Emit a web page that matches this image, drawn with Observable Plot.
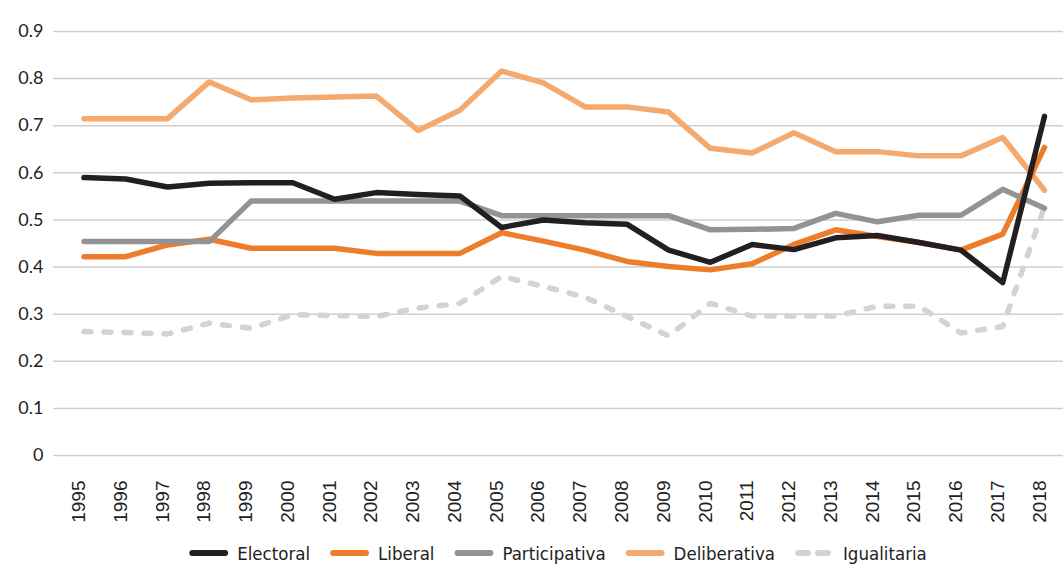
<!DOCTYPE html>
<html><head><meta charset="utf-8">
<script src="https://cdn.jsdelivr.net/npm/d3@7"></script>
<script src="https://cdn.jsdelivr.net/npm/@observablehq/plot@0.6"></script>
<style>
body{margin:0;background:#fff;}
#wrap{position:relative;width:1063px;height:568px;background:#fff;}
#legend{position:absolute;left:0;top:530px;}
</style></head>
<body><div id="wrap"><div id="chart"></div><svg id="legend" width="1063" height="38"></svg></div>
<script>
const years = [1995,1996,1997,1998,1999,2000,2001,2002,2003,2004,2005,2006,2007,2008,2009,2010,2011,2012,2013,2014,2015,2016,2017,2018];
const electoral     = [0.590,0.587,0.570,0.578,0.579,0.579,0.544,0.558,0.554,0.551,0.484,0.500,0.494,0.491,0.436,0.410,0.448,0.437,0.462,0.467,0.452,0.436,0.367,0.720];
const liberal       = [0.422,0.422,0.447,0.459,0.440,0.440,0.440,0.429,0.429,0.429,0.473,0.455,0.436,0.412,0.401,0.394,0.407,0.448,0.479,0.465,0.452,0.436,0.470,0.654];
const participativa = [0.454,0.454,0.454,0.454,0.540,0.540,0.540,0.540,0.540,0.540,0.509,0.509,0.509,0.509,0.509,0.479,0.480,0.482,0.514,0.496,0.510,0.510,0.565,0.525];
const deliberativa  = [0.715,0.715,0.715,0.793,0.755,0.759,0.761,0.763,0.690,0.733,0.816,0.791,0.740,0.740,0.729,0.652,0.642,0.685,0.645,0.645,0.636,0.636,0.675,0.563];
const igualitaria   = [0.263,0.261,0.258,0.281,0.270,0.299,0.297,0.295,0.313,0.323,0.380,0.359,0.336,0.295,0.254,0.323,0.296,0.296,0.296,0.317,0.317,0.260,0.274,0.528];
const yTicks = [0,0.1,0.2,0.3,0.4,0.5,0.6,0.7,0.8,0.9];
const seriesNames = ["Electoral","Liberal","Participativa","Deliberativa","Igualitaria"];
const seriesColors = ["#231f20","#ee7d2b","#939393","#f4a96e","#d3d3d3"];
const seriesValues = [electoral, liberal, participativa, deliberativa, igualitaria];

const series = seriesNames.map((name,k)=>({name, color:seriesColors[k], dashed:name==="Igualitaria",
  rows: years.map((y,i)=>({year:y, value:seriesValues[k][i]}))}));
const drawOrder = ["Igualitaria","Deliberativa","Liberal","Participativa","Electoral"];

const lineMarks = drawOrder.map(n=>{
  const s = series.find(d=>d.name===n);
  return Plot.lineY(s.rows, {x:"year", y:"value", stroke:s.color, strokeWidth:5.5,
    strokeLinejoin:"round", strokeLinecap:"round", strokeDasharray: s.dashed ? "7,13" : null});
});

const chart = Plot.plot({
  width:1063, height:530,
  marginLeft:53, marginRight:0, marginTop:31, marginBottom:75,
  style:{background:"white", overflow:"visible"},
  x:{domain:[1995,2018], insetLeft:30.5, insetRight:19},
  y:{domain:[0,0.9]},
  marks:[
    Plot.ruleY(yTicks, {stroke:"#cfcfcf", strokeWidth:1.5}),
    Plot.axisY({ticks:yTicks, tickSize:0, tickPadding:10, tickFormat:d=>String(d), fontFamily:"Lato, 'Open Sans', sans-serif", fontSize:18, fill:"#222", label:null}),
    Plot.axisX({ticks:years, tickFormat:d=>String(d), tickRotate:-90, tickSize:0, tickPadding:25, dx:-5, fontFamily:"'Liberation Sans', Arial, sans-serif", fontSize:19, fill:"#222", label:null}),
    ...lineMarks
  ]
});
document.getElementById("chart").appendChild(chart);

// Legend (SVG), centered on the plot frame
const svg = d3.select("#legend");
const cy = 23;
const swLen = 39, swGap = 9, itemGap = 20;
const g = svg.append("g");
const items = series.map(s=>{
  const it = g.append("g");
  it.append("line").attr("x1",3).attr("x2",swLen-3).attr("y1",cy).attr("y2",cy)
    .attr("stroke",s.color).attr("stroke-width",5.8).attr("stroke-linecap","round")
    .attr("stroke-dasharray", s.dashed ? "10,10" : null);
  const t = it.append("text").attr("y",cy).attr("dy","0.36em")
    .attr("font-family","'DejaVu Sans Condensed','DejaVu Sans',sans-serif")
    .attr("font-stretch","condensed").attr("font-size",18.5).attr("fill","#222").text(s.name);
  return {it, t};
});
// uniform horizontal condensing so "Electoral" spans ~73px like the original
const k = Math.min(1, 73 / items[0].t.node().getComputedTextLength());
let x = 0;
items.forEach(({it,t})=>{
  const w = t.node().getComputedTextLength()*k;
  t.attr("transform",`translate(${swLen+swGap},0) scale(${k},1)`);
  it.attr("transform",`translate(${x},0)`);
  x += swLen + swGap + w + itemGap;
});
const total = x - itemGap;
g.attr("transform",`translate(${53 + (1010 - total)/2},0)`);
</script>
</body></html>
